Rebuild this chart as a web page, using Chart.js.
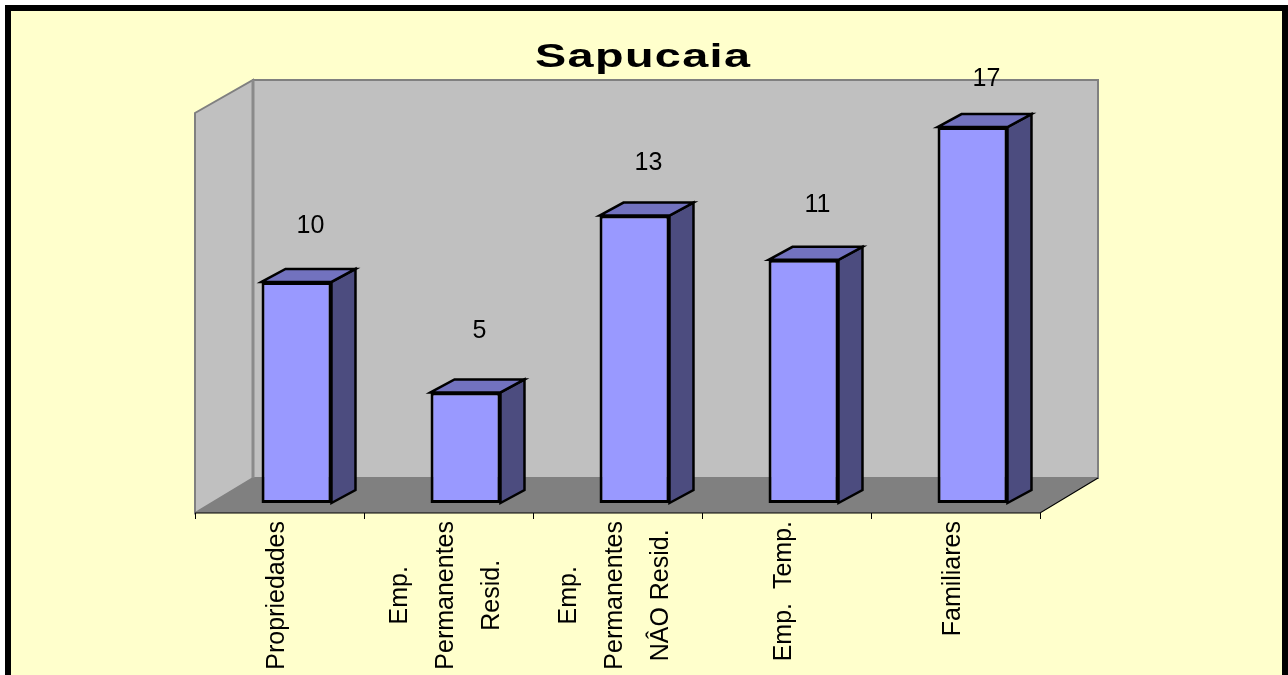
<!DOCTYPE html>
<html>
<head>
<meta charset="utf-8">
<title>Sapucaia</title>
<script src="https://cdn.jsdelivr.net/npm/chart.js@4.4.1/dist/chart.umd.min.js"></script>
<style>
  html, body { margin: 0; padding: 0; background: #ffffff; }
  canvas { display: block; }
</style>
</head>
<body>
<canvas id="sapucaia" width="1288" height="675"></canvas>
<script>
// categorias (rótulos em várias linhas) e valores
var categorias = [
    ['Propriedades'],
    ['Emp.', 'Permanentes', 'Resid.'],
    ['Emp.', 'Permanentes', 'NÂO Resid.'],
    ['Emp.  Temp.'],
    ['Familiares']
];
var valores = [10, 5, 13, 11, 17];
var titulo = 'Sapucaia';
var eixoMax = 18;

// deslocamentos do "3D": plano frontal, parede do fundo e profundidade da barra
var FRENTE = { dx: -17, dy: 10 };
var FUNDO = { dx: 41, dy: -25 };
var PROF = { dx: 24, dy: -13 };

function poligono(ctx, pts, fill, stroke, lw) {
    ctx.beginPath();
    ctx.moveTo(pts[0][0], pts[0][1]);
    for (var i = 1; i < pts.length; i++) ctx.lineTo(pts[i][0], pts[i][1]);
    ctx.closePath();
    if (fill) { ctx.fillStyle = fill; ctx.fill(); }
    if (stroke) { ctx.strokeStyle = stroke; ctx.lineWidth = lw || 1; ctx.stroke(); }
}

var cena3d = {
    id: 'cena3d',
    beforeDraw: function (chart) {
        var ctx = chart.ctx;
        ctx.save();
        ctx.fillStyle = '#ffffff';
        ctx.fillRect(0, 0, chart.width, chart.height);
        ctx.fillStyle = '#000000';
        ctx.fillRect(5, 5, chart.width, chart.height);
        ctx.fillStyle = '#FFFFCC';
        ctx.fillRect(11, 11, chart.width - 17, chart.height);
        ctx.restore();
    },
    beforeDatasetsDraw: function (chart) {
        var ctx = chart.ctx;
        var a = chart.chartArea;
        var L = a.left, R = a.right, T = a.top, B = a.bottom;
        ctx.save();
        ctx.lineJoin = 'miter';

        // parede lateral
        poligono(ctx, [[L + FRENTE.dx, B + FRENTE.dy], [L + FRENTE.dx, T + FRENTE.dy - 2],
            [L + FUNDO.dx, T + FUNDO.dy], [L + FUNDO.dx, B + FUNDO.dy]], '#C0C0C0', '#808080', 2);
        // parede do fundo
        poligono(ctx, [[L + FUNDO.dx, T + FUNDO.dy], [R + FUNDO.dx, T + FUNDO.dy],
            [R + FUNDO.dx, B + FUNDO.dy], [L + FUNDO.dx, B + FUNDO.dy]], '#C0C0C0', '#808080', 2);
        ctx.fillStyle = '#8A8A8A';
        ctx.fillRect(L + FUNDO.dx - 1.5, T + FUNDO.dy, 3, B - T);
        // piso
        poligono(ctx, [[L + FRENTE.dx, B + FRENTE.dy], [R + FRENTE.dx, B + FRENTE.dy],
            [R + FUNDO.dx, B + FUNDO.dy], [L + FUNDO.dx, B + FUNDO.dy]], '#808080', null);

        // borda frontal e diagonal direita do piso
        ctx.strokeStyle = '#000000';
        ctx.lineWidth = 1.2;
        ctx.beginPath();
        ctx.moveTo(L + FRENTE.dx, B + FRENTE.dy);
        ctx.lineTo(R + FRENTE.dx, B + FRENTE.dy);
        ctx.lineTo(R + FUNDO.dx, B + FUNDO.dy);
        ctx.stroke();

        // marcas do eixo X nas divisões das categorias
        var n = categorias.length;
        ctx.lineWidth = 1;
        ctx.beginPath();
        for (var k = 0; k <= n; k++) {
            var xt = Math.round(L + FRENTE.dx + k * (R - L) / n) + 0.5;
            ctx.moveTo(xt, B + FRENTE.dy);
            ctx.lineTo(xt, B + FRENTE.dy + 6);
        }
        ctx.stroke();

        // rótulos das categorias, girados
        var xs = chart.scales.x;
        ctx.fillStyle = '#000000';
        ctx.font = '25px "Liberation Sans", Arial, sans-serif';
        ctx.textAlign = 'center';
        ctx.textBaseline = 'middle';
        categorias.forEach(function (linhas, i) {
            var cx = xs.getPixelForValue(i) + FRENTE.dx - 2;
            var larg = 0;
            linhas.forEach(function (l) { larg = Math.max(larg, ctx.measureText(l).width); });
            ctx.save();
            ctx.translate(cx, B + FRENTE.dy + 8);
            ctx.rotate(-Math.PI / 2);
            linhas.forEach(function (l, j) {
                ctx.fillText(l, -larg / 2, (j - (linhas.length - 1) / 2) * 46);
            });
            ctx.restore();
        });

        // faces lateral e superior das barras
        var meta = chart.getDatasetMeta(0);
        meta.data.forEach(function (bar) {
            var x0 = bar.x - bar.width / 2, x1 = bar.x + bar.width / 2;
            var top = bar.y, base = bar.base;
            poligono(ctx, [[x1, top], [x1 + PROF.dx, top + PROF.dy],
                [x1 + PROF.dx, base + PROF.dy], [x1, base]], '#4C4C7F', '#000000', 2.5);
            poligono(ctx, [[x0, top], [x0 + PROF.dx, top + PROF.dy],
                [x1 + PROF.dx, top + PROF.dy], [x1, top]], '#7272BF', '#000000', 2.5);
        });
        ctx.restore();
    },
    afterDatasetsDraw: function (chart) {
        var ctx = chart.ctx;
        var ys = chart.scales.y;
        var y0 = ys.getPixelForValue(0);
        ctx.save();
        ctx.fillStyle = '#000000';

        // valores acima das barras
        ctx.font = '25px "Liberation Sans", Arial, sans-serif';
        ctx.textAlign = 'center';
        ctx.textBaseline = 'middle';
        var meta = chart.getDatasetMeta(0);
        meta.data.forEach(function (bar, i) {
            var ly = y0 - 67 - (y0 - bar.y) * 0.95;
            ctx.fillText(String(valores[i]), bar.x + 14, ly);
        });

        // título, alargado horizontalmente
        ctx.font = 'bold 34px "Liberation Sans", Arial, sans-serif';
        ctx.letterSpacing = '1px';
        ctx.textAlign = 'left';
        ctx.textBaseline = 'alphabetic';
        var w = ctx.measureText(titulo).width - 1;
        var sx = 215 / w;
        ctx.translate(642.5 - w * sx / 2, 67);
        ctx.scale(sx, 1);
        ctx.fillText(titulo, 0, 0);
        ctx.restore();
    }
};

var ctx = document.getElementById('sapucaia').getContext('2d');
var chart = new Chart(ctx, {
    type: 'bar',
    data: {
        labels: categorias,
        datasets: [{
            label: titulo,
            data: valores,
            backgroundColor: '#9999FF',
            borderColor: '#000000',
            borderWidth: 3,
            borderSkipped: false,
            categoryPercentage: 1,
            barPercentage: 0.414
        }]
    },
    options: {
        responsive: false,
        animation: false,
        layout: { padding: { left: 212, right: 231, top: 105, bottom: 172 } },
        plugins: {
            legend: { display: false },
            title: { display: false },
            tooltip: { enabled: false }
        },
        scales: {
            x: { display: false },
            y: { display: false, min: 0, max: eixoMax }
        }
    },
    plugins: [cena3d]
});
</script>
</body>
</html>
